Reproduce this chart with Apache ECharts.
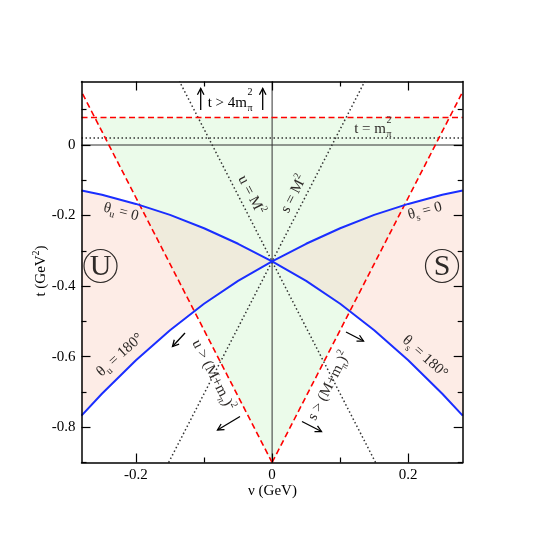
<!DOCTYPE html>
<html><head><meta charset="utf-8">
<script src="https://cdn.jsdelivr.net/npm/echarts@6/dist/echarts.min.js"></script>
<style>html,body{margin:0;padding:0;background:#fff}#c{width:545px;height:545px}</style>
</head><body><div id="c"></div>
<script>
const FONT = '"Liberation Serif", "Times New Roman", "DejaVu Serif", serif';

// ---- axes ----
const nuRange = [-0.28, 0.28];
const tRange = [-0.9, 0.18];
const nuMajorTicks = [-0.2, 0, 0.2];
const nuMinorTicks = [-0.1, 0.1];
const tMajorTicks = [0, -0.2, -0.4, -0.6, -0.8];
const tMinorTicks = [0.1, -0.1, -0.3, -0.5, -0.7, -0.9];

// ---- physical-region boundaries (nu, t) ----
const thetaS0   = [[0,-0.33],[0.05,-0.280],[0.1,-0.236],[0.15,-0.198],[0.2,-0.167],[0.25,-0.141],[0.28,-0.129]];
const thetaS180 = [[0,-0.33],[0.05,-0.385],[0.1,-0.450],[0.15,-0.525],[0.2,-0.610],[0.25,-0.705],[0.28,-0.767]];
const thetaU0   = [[0,-0.33],[-0.05,-0.280],[-0.1,-0.236],[-0.15,-0.198],[-0.2,-0.167],[-0.25,-0.141],[-0.28,-0.129]];
const thetaU180 = [[0,-0.33],[-0.05,-0.385],[-0.1,-0.450],[-0.15,-0.525],[-0.2,-0.610],[-0.25,-0.705],[-0.28,-0.767]];

// ---- thresholds / poles ----
const sThreshold = [[0,-0.9],[0.28,0.151]];
const uThreshold = [[0,-0.9],[-0.28,0.151]];
const sPole = [[-0.152,-0.9],[0.136,0.18]];
const uPole = [[0.152,-0.9],[-0.136,0.18]];
const t4m2  = [[-0.28,0.078],[0.28,0.078]];
const tm2   = [[-0.28,0.0195],[0.28,0.0195]];
const tZero = [[-0.28,0],[0.28,0]];
const nuZero = [[0,-0.9],[0,0.18]];

// ---- colours ----
const GREEN = '#ebfbea', PINK = '#fdece6', TAN = '#efebdc';
const BLUE = '#1a2eff', RED = '#ff0000', DOT = '#333333', TXT = '#2e2a28';

// ---- derived polygons ----
function tOnSeg(seg, nu) { const [[x1,y1],[x2,y2]] = seg; return y1 + (y2-y1)*(nu-x1)/(x2-x1); }
function nuOnSeg(seg, t) { const [[x1,y1],[x2,y2]] = seg; return x1 + (x2-x1)*(t-y1)/(y2-y1); }
function cross(curve, seg) {
  for (let i = 0; i < curve.length-1; i++) {
    const f0 = curve[i][1]-tOnSeg(seg, curve[i][0]);
    const f1 = curve[i+1][1]-tOnSeg(seg, curve[i+1][0]);
    if (f0*f1 <= 0 && f0 !== f1) {
      const r = f0/(f0-f1);
      return {i, p:[curve[i][0]+r*(curve[i+1][0]-curve[i][0]), curve[i][1]+r*(curve[i+1][1]-curve[i][1])]};
    }
  }
  return null;
}
function tanPoly(up, lo, seg) {
  const a = cross(up, seg), b = cross(lo, seg);
  return up.slice(0, a.i+1).concat([a.p, b.p]).concat(lo.slice(0, b.i+1).reverse());
}
const tTop = t4m2[0][1];
const greenTri = [sThreshold[0], [nuOnSeg(uThreshold, tTop), tTop], [nuOnSeg(sThreshold, tTop), tTop]];
const polygons = [
  {pts: greenTri, fill: GREEN},
  {pts: thetaS0.concat(thetaS180.slice().reverse()), fill: PINK},
  {pts: thetaU0.concat(thetaU180.slice().reverse()), fill: PINK},
  {pts: tanPoly(thetaS0, thetaS180, sThreshold), fill: TAN},
  {pts: tanPoly(thetaU0, thetaU180, uThreshold), fill: TAN}
];

function mkX(pos, ticks, len, labels, line) {
  return {type:'value', min:nuRange[0], max:nuRange[1], position:pos, z:10,
    splitLine:{show:false},
    axisLine:{show:line, onZero:false, lineStyle:{color:'#000', width:1.5}},
    axisTick:{show:true, inside:true, length:len, customValues:ticks, lineStyle:{color:'#000', width:1.2}},
    axisLabel:{show:labels, customValues:nuMajorTicks, margin:5, color:'#000', fontFamily:FONT, fontSize:15,
      formatter: v => (Math.abs(v) < 1e-9 ? '0' : (+v).toFixed(1))}};
}
function mkY(pos, ticks, len, labels, line) {
  return {type:'value', min:tRange[0], max:tRange[1], position:pos, z:10,
    splitLine:{show:false},
    axisLine:{show:line, onZero:false, lineStyle:{color:'#000', width:1.5}},
    axisTick:{show:true, inside:true, length:len, customValues:ticks, lineStyle:{color:'#000', width:1.2}},
    axisLabel:{show:labels, customValues:tMajorTicks, margin:6, color:'#000', fontFamily:FONT, fontSize:15,
      formatter: v => (Math.abs(v) < 1e-9 ? '0' : (+v).toFixed(1))}};
}
function line(data, color, width, type, z) {
  return {type:'line', data, xAxisIndex:0, yAxisIndex:0, showSymbol:false, symbol:'none', silent:true,
    clip:true, z:z||3, lineStyle:{color, width, type: type||'solid', cap:'butt'}};
}

const RICH = {
  m:   {fontSize:15, fontFamily:FONT, lineHeight:20, verticalAlign:'middle', fill:TXT, color:TXT},
  sub: {fontSize:10, fontFamily:FONT, lineHeight:10, verticalAlign:'bottom', fill:TXT, color:TXT},
  sup: {fontSize:10, fontFamily:FONT, lineHeight:10, verticalAlign:'top', fill:TXT, color:TXT}
};
const RICHK = {
  m:   Object.assign({}, RICH.m, {fill:'#000', color:'#000'}),
  sub: Object.assign({}, RICH.sub, {fill:'#000', color:'#000'}),
  sup: Object.assign({}, RICH.sup, {fill:'#000', color:'#000'})
};
const D = Math.PI/180;
function txt(x, y, text, rot, opt) {
  opt = opt || {};
  return {type:'text', x, y, rotation:(rot||0)*D, z:100, silent:true,
    style:{text, rich: opt.black ? RICHK : RICH, fill: opt.black ? '#000' : TXT,
      font: (opt.size||15)+'px '+FONT, align: opt.align||'center', verticalAlign:'middle',
      textAlign: opt.align||'center', textVerticalAlign:'middle'}};
}
function arrow(x1, y1, x2, y2) {
  const ang = Math.atan2(y1-y2, x1-x2), L = 7, h = 28*D;
  return {type:'group', z:100, silent:true, children:[
    {type:'line', shape:{x1, y1, x2, y2}, style:{stroke:'#000', lineWidth:1.3}, z:100},
    {type:'polyline', shape:{points:[[x2+L*Math.cos(ang+h), y2+L*Math.sin(ang+h)],[x2,y2],[x2+L*Math.cos(ang-h), y2+L*Math.sin(ang-h)]]},
      style:{stroke:'#000', lineWidth:1.3, fill:null}, z:100}
  ]};
}
function circled(cx, cy, letter) {
  return [
    {type:'circle', shape:{cx, cy, r:16.5}, style:{fill:null, stroke:TXT, lineWidth:1.2}, z:100, silent:true},
    {type:'text', x:cx, y:cy+1, z:100, silent:true, style:{text:letter, fill:TXT, font:'30px '+FONT,
      align:'center', verticalAlign:'middle', textAlign:'center', textVerticalAlign:'middle'}}
  ];
}

const graphics = [
  txt(272.5, 491, '{m|ν (GeV)}', 0, {black:true}),
  txt(41, 271, '{m|t (GeV}{sup|2}{m|)}', 90, {black:true}),
  txt(247, 103, '{m|t > 4m}', 0, {align:'right', black:true}),
  txt(247.5, 92.5, '{sup|2}', 0, {align:'left', black:true}),
  txt(247.5, 108, '{sub|π}', 0, {align:'left', black:true}),
  txt(386, 129.5, '{m|t = m}', 0, {align:'right'}),
  txt(386.5, 120, '{sup|2}', 0, {align:'left'}),
  txt(386.5, 134, '{sub|π}', 0, {align:'left'}),
  txt(251, 195, '{m|u = M}{sup|2}', -62.8),
  txt(294, 194, '{m|s = M}{sup|2}', 62.8),
  txt(121, 212, '{m|θ}{sub|u}{m| = 0}', -15),
  txt(425, 211, '{m|θ}{sub|s}{m| = 0}', 15),
  txt(120, 355, '{m|θ}{sub|u}{m| = 180°}', 42),
  txt(425, 357, '{m|θ}{sub|s}{m| = 180°}', -42),
  txt(213, 375, '{m|u > (M+m}{sub|π}{m|)}{sup|2}', -62.8),
  txt(329, 386, '{m|s > (M+m}{sub|π}{m|)}{sup|2}', 62.8),
  arrow(185, 333, 172.5, 346.5),
  arrow(240, 416.5, 217.5, 430),
  arrow(346, 332, 363.5, 341),
  arrow(302, 421.5, 321.5, 431.5),
  arrow(200.7, 110, 200.7, 88.5),
  arrow(262.7, 110, 262.7, 88.5)
].concat(circled(100.5, 266, 'U'), circled(442, 266, 'S'));

const chart = echarts.init(document.getElementById('c'), null, {renderer:'canvas'});
chart.setOption({
  animation:false,
  backgroundColor:'#fff',
  grid:{left:81.5, right:82.3, top:81.5, bottom:82.5, containLabel:false},
  xAxis:[mkX('bottom', nuMajorTicks, 9, true, true), mkX('bottom', nuMinorTicks, 5, false, false),
         mkX('top', nuMajorTicks, 9, false, true), mkX('top', nuMinorTicks, 5, false, false)],
  yAxis:[mkY('left', tMajorTicks, 9, true, true), mkY('left', tMinorTicks, 5, false, false),
         mkY('right', tMajorTicks, 9, false, true), mkY('right', tMinorTicks, 5, false, false)],
  series:[
    {type:'custom', xAxisIndex:0, yAxisIndex:0, clip:true, silent:true, z:1,
      data: polygons.map((p, i) => [0, 0, i]),
      renderItem: (params, api) => {
        const p = polygons[params.dataIndex];
        return {type:'polygon', shape:{points: p.pts.map(q => api.coord(q))}, style:{fill:p.fill, stroke:p.fill, lineWidth:0.5}};
      }},
    line(tZero, '#333', 1),
    line(nuZero, '#333', 1),
    line(tm2, DOT, 1.5, [1.5, 2.5]),
    line(sPole, DOT, 1.5, [1.5, 2.5]),
    line(uPole, DOT, 1.5, [1.5, 2.5]),
    line(t4m2, RED, 1.6, [6, 3.5]),
    line(sThreshold, RED, 1.6, [6, 3.5]),
    line(uThreshold, RED, 1.6, [6, 3.5]),
    line(thetaS0, BLUE, 2, 'solid', 4),
    line(thetaS180, BLUE, 2, 'solid', 4),
    line(thetaU0, BLUE, 2, 'solid', 4),
    line(thetaU180, BLUE, 2, 'solid', 4)
  ],
  graphic: graphics
});
</script></body></html>
